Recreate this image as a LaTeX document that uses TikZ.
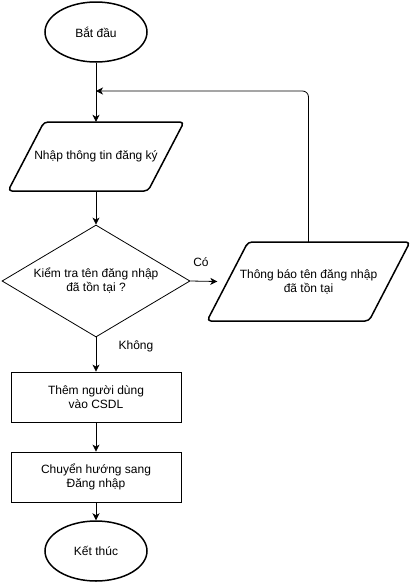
\documentclass[tikz,border=0pt]{standalone}
\usepackage{fontspec}
\setmainfont{Liberation Sans}
\usetikzlibrary{shapes.geometric,arrows.meta}
\tikzset{
  lbl/.style={font=\fontsize{12}{14}\selectfont, align=center, inner sep=0pt},
  term/.style={ellipse, draw, line width=1.5pt, minimum width=102pt, minimum height=60pt, inner sep=0pt, font=\fontsize{12}{14}\selectfont},
  procbox/.style={rectangle, draw, line width=0.8pt, minimum width=170pt, minimum height=50pt, inner sep=0pt, align=center, font=\fontsize{12}{14}\selectfont},
  iobox/.style={rectangle, draw=none, inner sep=0pt, align=center, font=\fontsize{12}{14}\selectfont},
  para/.style={draw, line width=1.5pt, rounded corners=4pt, line join=round},
  decision/.style={diamond, draw, line width=0.8pt, minimum width=188pt, minimum height=112pt, inner sep=0pt},
  flow/.style={draw, line width=0.8pt, -{Stealth[length=7pt, width=7pt, inset=2pt]}},
}
\begin{document}
\begin{tikzpicture}[x=1pt, y=-1pt]
\useasboundingbox (0,0) rectangle (413,582);
\fill[white] (0,0) rectangle (413,582);

% nodes
\node[term] (start) at (96,32) {Bắt đầu};
\node[iobox, minimum width=140pt, minimum height=69pt] (p1) at (96,156.5) {Nhập thông tin đăng ký};
\draw[para] (44,122) -- (184,122) -- (148,191) -- (8,191) -- cycle;
\node[decision] (d) at (96,281) {};
\node[lbl] at (d.center) {Kiểm tra tên đăng nhập\\đã tồn tại ?};
\node[iobox, minimum width=182pt, minimum height=79pt] (p2) at (308.5,281.5) {Thông báo tên đăng nhập\\đã tồn tại};
\draw[para] (248,242) -- (410,242) -- (369,321) -- (207,321) -- cycle;
\node[procbox] (r1) at (96,397) {Thêm người dùng\\vào CSDL};
\node[procbox] (r2) at (96,477) {Chuyển hướng sang\\Đăng nhập};
\node[term] (end) at (96,551) {Kết thúc};
\coordinate (j) at (96,91);

% labels
\node[lbl] (co) at (201,262) {Có};
\node[lbl] (khong) at (136,346) {Không};

% connectors
\draw[flow] (start.south) -- (p1.north);
\draw[flow] (p1.south) -- (d.north);
\draw[flow] (d.east) -- (p2.west);
\draw[flow, rounded corners=6pt] (p2.north) |- (j);
\draw[flow] (d.south) -- (r1.north);
\draw[flow] (r1.south) -- (r2.north);
\draw[flow] (r2.south) -- (end.north);
\end{tikzpicture}
\end{document}
